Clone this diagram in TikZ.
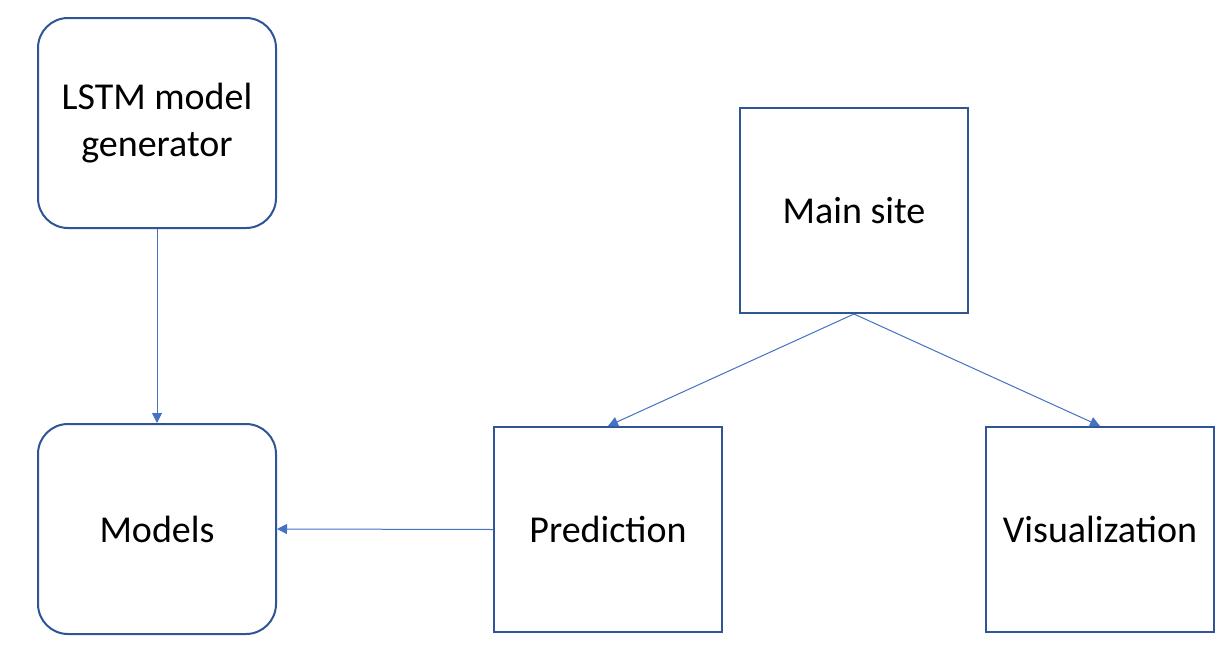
\documentclass[tikz,border=0pt]{standalone}
\usepackage{fontspec}
\setmainfont{Carlito}
\usetikzlibrary{arrows.meta}
\definecolor{boxblue}{HTML}{2F5597}
\definecolor{arrblue}{HTML}{4472C4}
\tikzset{
  rbox/.style={draw=boxblue, line width=2pt, rounded corners=30pt, minimum width=238pt, minimum height=210pt, align=center, font=\fontsize{38}{47}\selectfont, inner sep=0pt},
  sbox/.style={draw=boxblue, line width=2pt, minimum width=228pt, minimum height=205pt, align=center, font=\fontsize{38}{47}\selectfont, inner sep=0pt},
  conn/.style={draw=arrblue, line width=1pt, -{Triangle[length=10pt,width=10pt]}}
}
\begin{document}
\begin{tikzpicture}[x=1pt,y=-1pt]
\useasboundingbox (0,0) rectangle (1229,648);
\fill[white] (0,0) rectangle (1229,648);
\node[rbox] (lstm) at (157,123) {LSTM model\\generator};
\node[rbox] (models) at (157,529) {Models};
\node[sbox] (main) at (854,210.5) {Main site};
\node[sbox] (pred) at (608,529.5) {Prediction};
\node[sbox] (vis) at (1100,529.5) {Visualization};
\draw[conn] (lstm.south) -- (models.north);
\draw[conn] (main.south) -- (pred.north);
\draw[conn] (main.south) -- (vis.north);
\draw[conn] (pred.west) -- (models.east);
\end{tikzpicture}
\end{document}
